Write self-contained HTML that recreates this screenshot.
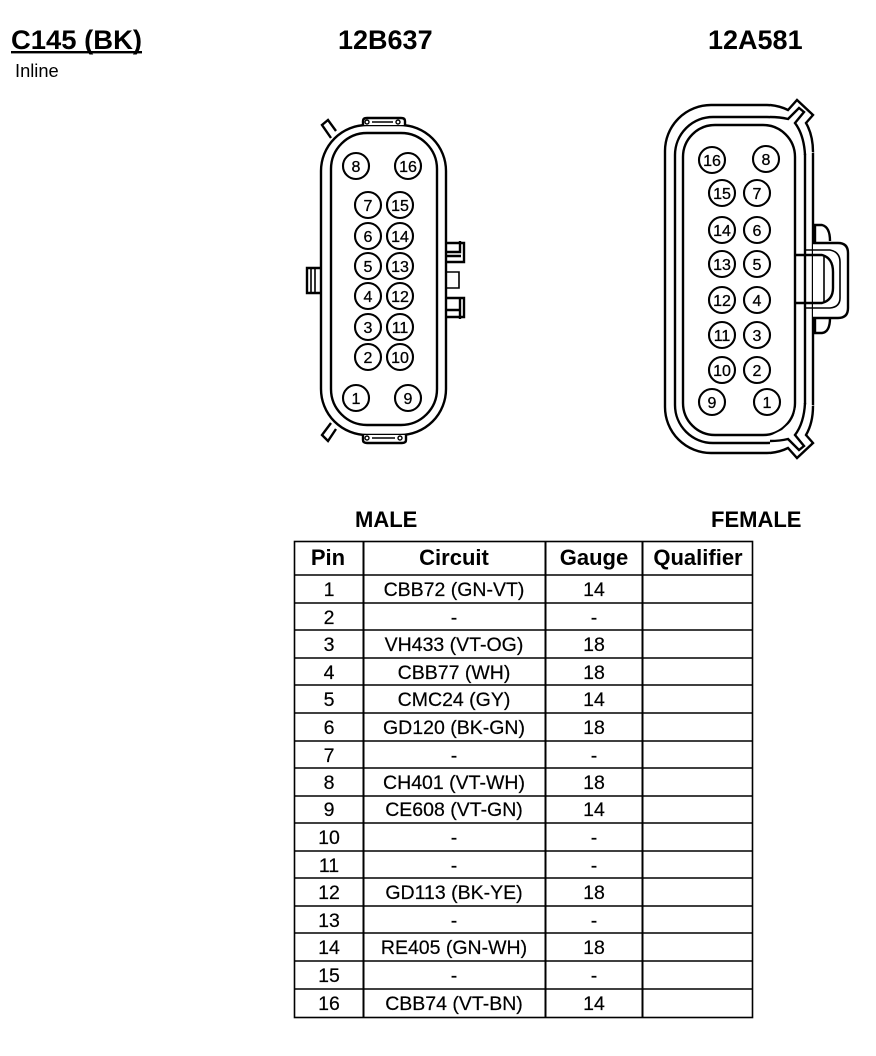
<!DOCTYPE html>
<html><head><meta charset="utf-8"><style>
html,body{margin:0;padding:0;background:#fff}
svg{display:block}
text{font-family:"Liberation Sans",sans-serif;fill:#000}
.p{font-size:16px;text-anchor:middle;stroke:#000;stroke-width:.3px}
.h{font-size:22px;font-weight:bold;text-anchor:middle}
.c{font-size:19.5px;text-anchor:middle;stroke:#000;stroke-width:.2px}
.b{font-size:27px;font-weight:bold}
.m{font-size:22px;font-weight:bold}
.s{fill:none;stroke:#000;stroke-width:2.4}
.w{fill:#fff;stroke:#000;stroke-width:2.4}
.n{fill:none;stroke:#000;stroke-width:1.6}
circle{fill:#fff;stroke:#000;stroke-width:2.1}
</style></head><body>
<svg width="876" height="1056" viewBox="0 0 876 1056" xmlns="http://www.w3.org/2000/svg">
<text x="11" y="49" class="b" textLength="131" lengthAdjust="spacingAndGlyphs">C145 (BK)</text>
<rect x="11" y="51" width="131" height="2.4"/>
<text x="15" y="77" style="font-size:18.3px">Inline</text>
<text x="338" y="49" class="b">12B637</text>
<text x="708" y="49" class="b">12A581</text>

<!-- left connector -->
<rect x="321" y="125" width="125" height="310" rx="46" ry="46" class="s"/>
<rect x="331" y="133" width="106" height="292" rx="36" ry="36" class="s"/>
<path class="w" d="M336 131 L328 120 L322 125 L331 138"/>
<path class="w" d="M336 429 L328 441 L322 435 L331 423"/>
<path class="w" d="M363 125 V121 Q363 118 367 118 H401 Q405 118 405 121 V125"/>
<path class="n" d="M372 122 H393"/>
<circle cx="367" cy="122" r="2" style="stroke-width:1.4"/><circle cx="398" cy="122" r="2" style="stroke-width:1.4"/>
<path class="w" d="M363 435 V440 Q363 443 367 443 H402 Q406 443 406 440 V435"/>
<path class="n" d="M372 438 H395"/>
<circle cx="367" cy="438" r="2" style="stroke-width:1.4"/><circle cx="400" cy="438" r="2" style="stroke-width:1.4"/>
<path class="s" d="M321 268 H307 V293 H321"/>
<path class="n" d="M311 269 V293 M315 269 V293"/>
<path class="s" d="M446 243 H464 V262 H446 M446 252 H460 V241 M446 256 H461"/>
<path class="n" d="M446 272 H459 V288 H446"/>
<path class="s" d="M446 298 H464 V317 H446 M446 310 H461 M460 298 V319"/>

<g>
<circle cx="356" cy="166" r="13"/><text x="356" y="172" class="p">8</text>
<circle cx="408" cy="166" r="13"/><text x="408" y="172" class="p">16</text>
<circle cx="368" cy="205" r="13"/><text x="368" y="211" class="p">7</text>
<circle cx="400" cy="205" r="13"/><text x="400" y="211" class="p">15</text>
<circle cx="368" cy="236" r="13"/><text x="368" y="242" class="p">6</text>
<circle cx="400" cy="236" r="13"/><text x="400" y="242" class="p">14</text>
<circle cx="368" cy="266" r="13"/><text x="368" y="272" class="p">5</text>
<circle cx="400" cy="266" r="13"/><text x="400" y="272" class="p">13</text>
<circle cx="368" cy="296" r="13"/><text x="368" y="302" class="p">4</text>
<circle cx="400" cy="296" r="13"/><text x="400" y="302" class="p">12</text>
<circle cx="368" cy="327" r="13"/><text x="368" y="333" class="p">3</text>
<circle cx="400" cy="327" r="13"/><text x="400" y="333" class="p">11</text>
<circle cx="368" cy="357" r="13"/><text x="368" y="363" class="p">2</text>
<circle cx="400" cy="357" r="13"/><text x="400" y="363" class="p">10</text>
<circle cx="356" cy="398" r="13"/><text x="356" y="404" class="p">1</text>
<circle cx="408" cy="398" r="13"/><text x="408" y="404" class="p">9</text>
</g>

<!-- right connector -->
<rect x="665" y="105" width="148" height="348" rx="46" ry="46" class="s"/>
<rect x="675" y="117" width="130" height="326" rx="38" ry="38" class="s"/>
<rect x="683" y="125" width="112" height="310" rx="32" ry="32" class="s"/>
<path d="M770 100 L800 97 L817 115 L817 152 L797 155 L793 138 L782 128 L770 122 Z" fill="#fff"/>
<path d="M770 458 L800 461 L817 443 L817 406 L797 403 L793 420 L782 430 L770 436 Z" fill="#fff"/>
<path class="s" d="M770 105 Q780 106 788 110 L797 100 L813 115 L806 123 Q813 135 813 152"/>
<path class="s" d="M770 117 Q780 117 788 119 L799 108 L804 112 L795 123 Q804 135 805 155"/>
<path class="s" d="M770 453 Q780 452 788 448 L797 458 L813 443 L806 435 Q813 423 813 406"/>
<path class="s" d="M770 441 Q780 441 788 439 L799 450 L804 446 L795 435 Q804 423 805 403"/>
<path class="s" d="M815 242 V225 H822 Q830 227 830 241"/>
<path class="s" d="M815 317 V333 H822 Q830 332 830 318"/>
<path class="w" d="M813 243 H838 Q848 243 848 253 V308 Q848 318 838 318 H813"/>
<path class="n" d="M805 250 H830 Q840 252 840 262 V298 Q840 307 830 308 H805"/>
<path class="s" d="M796 255 H822 Q833 258 833 272 V288 Q833 300 822 303 H796"/>
<path class="n" d="M824 256 V302 M805 250 V308"/>
<g>
<circle cx="712" cy="160" r="13"/><text x="712" y="166" class="p">16</text>
<circle cx="766" cy="159" r="13"/><text x="766" y="165" class="p">8</text>
<circle cx="722" cy="193" r="13"/><text x="722" y="199" class="p">15</text>
<circle cx="757" cy="193" r="13"/><text x="757" y="199" class="p">7</text>
<circle cx="722" cy="230" r="13"/><text x="722" y="236" class="p">14</text>
<circle cx="757" cy="230" r="13"/><text x="757" y="236" class="p">6</text>
<circle cx="722" cy="264" r="13"/><text x="722" y="270" class="p">13</text>
<circle cx="757" cy="264" r="13"/><text x="757" y="270" class="p">5</text>
<circle cx="722" cy="300" r="13"/><text x="722" y="306" class="p">12</text>
<circle cx="757" cy="300" r="13"/><text x="757" y="306" class="p">4</text>
<circle cx="722" cy="335" r="13"/><text x="722" y="341" class="p">11</text>
<circle cx="757" cy="335" r="13"/><text x="757" y="341" class="p">3</text>
<circle cx="722" cy="370" r="13"/><text x="722" y="376" class="p">10</text>
<circle cx="757" cy="370" r="13"/><text x="757" y="376" class="p">2</text>
<circle cx="712" cy="402" r="13"/><text x="712" y="408" class="p">9</text>
<circle cx="767" cy="402" r="13"/><text x="767" y="408" class="p">1</text>
</g>

<text x="355" y="527" class="m">MALE</text>
<text x="711" y="527" class="m">FEMALE</text>

<!-- table -->
<g stroke="#000" stroke-width="1.6" fill="none">
<rect x="294.500" y="541.500" width="458" height="476"/>
<path d="M294 575H752M294 603H752M294 630H752M294 658H752M294 685H752M294 713H752M294 741H752M294 768H752M294 796H752M294 823H752M294 851H752M294 878H752M294 906H752M294 933H752M294 961H752M294 989H752"/>
<path d="M363.500 541V1017M545.500 541V1017M642.500 541V1017" stroke-width="2"/>
</g>
<text x="328" y="565" class="h">Pin</text>
<text x="454" y="565" class="h">Circuit</text>
<text x="594" y="565" class="h">Gauge</text>
<text x="698" y="565" class="h">Qualifier</text>

<g transform="translate(0,1)">
<text x="329" y="595" class="c">1</text><text x="454" y="595" class="c">CBB72 (GN-VT)</text><text x="594" y="595" class="c">14</text>
<text x="329" y="623" class="c">2</text><text x="454" y="623" class="c">-</text><text x="594" y="623" class="c">-</text>
<text x="329" y="650" class="c">3</text><text x="454" y="650" class="c">VH433 (VT-OG)</text><text x="594" y="650" class="c">18</text>
<text x="329" y="678" class="c">4</text><text x="454" y="678" class="c">CBB77 (WH)</text><text x="594" y="678" class="c">18</text>
<text x="329" y="705" class="c">5</text><text x="454" y="705" class="c">CMC24 (GY)</text><text x="594" y="705" class="c">14</text>
<text x="329" y="733" class="c">6</text><text x="454" y="733" class="c">GD120 (BK-GN)</text><text x="594" y="733" class="c">18</text>
<text x="329" y="761" class="c">7</text><text x="454" y="761" class="c">-</text><text x="594" y="761" class="c">-</text>
<text x="329" y="788" class="c">8</text><text x="454" y="788" class="c">CH401 (VT-WH)</text><text x="594" y="788" class="c">18</text>
<text x="329" y="815" class="c">9</text><text x="454" y="815" class="c">CE608 (VT-GN)</text><text x="594" y="815" class="c">14</text>
<text x="329" y="843" class="c">10</text><text x="454" y="843" class="c">-</text><text x="594" y="843" class="c">-</text>
<text x="329" y="871" class="c">11</text><text x="454" y="871" class="c">-</text><text x="594" y="871" class="c">-</text>
<text x="329" y="898" class="c">12</text><text x="454" y="898" class="c">GD113 (BK-YE)</text><text x="594" y="898" class="c">18</text>
<text x="329" y="926" class="c">13</text><text x="454" y="926" class="c">-</text><text x="594" y="926" class="c">-</text>
<text x="329" y="953" class="c">14</text><text x="454" y="953" class="c">RE405 (GN-WH)</text><text x="594" y="953" class="c">18</text>
<text x="329" y="981" class="c">15</text><text x="454" y="981" class="c">-</text><text x="594" y="981" class="c">-</text>
<text x="329" y="1009" class="c">16</text><text x="454" y="1009" class="c">CBB74 (VT-BN)</text><text x="594" y="1009" class="c">14</text>
</g>
</svg>
</body></html>
